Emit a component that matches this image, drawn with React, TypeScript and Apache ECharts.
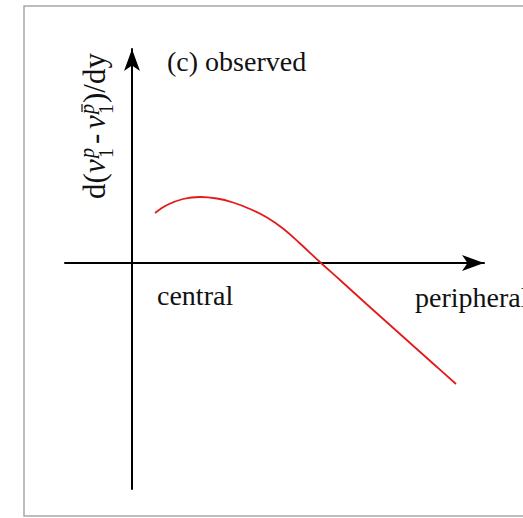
import React, { useEffect, useRef } from "react";
import * as echarts from "echarts";

// Curve (x: along the horizontal axis, y: derivative value)
const curveX = [2.3, 3.5, 5.1, 6.8, 8.5, 10.1, 11.8, 13.5, 15.1, 16.8, 18.9, 20.8, 23.5, 26.8, 30.1, 32.4];
const curveY = [5.0, 5.8, 6.4, 6.6, 6.45, 6.05, 5.4, 4.55, 3.45, 1.95, 0.0, -1.7, -4.15, -7.1, -10.05, -12.1];

const xRange = [-6.7, 35.2];
const yRange = [-22.6, 21.4];

const panelTitle = "(c) observed";
const xLabelLeft = "central";
const xLabelRight = "peripheral";

const SERIF = "'Liberation Serif', 'Times New Roman', serif";

function txt(text: string, x: number, baselineY: number, fs: number, italic = false) {
  return {
    type: "text",
    x,
    y: baselineY - 0.3375 * fs,
    style: {
      text,
      fill: "#111",
      font: `${italic ? "italic " : ""}${fs}px ${SERIF}`,
      align: "left",
      verticalAlign: "middle",
    },
  };
}

export default function App() {
  const ref = useRef<HTMLDivElement>(null);

  useEffect(() => {
    if (!ref.current) return;
    const chart = echarts.init(ref.current, null, { renderer: "svg" });
    const data = curveX.map((x, i) => [x, curveY[i]]);

    const F = 31;
    const S = 20;
    const supY = -11;
    const subY = 8;

    const yLabelChildren: any[] = [
      txt("d(", 0, 0, F),
      txt("v", 26, 0, F, true),
      txt("p", 41, supY, S, true),
      txt("1", 41, subY, S),
      txt("-", 55, 0, F),
      txt("v", 70, 0, F, true),
      txt("p", 85, supY, S, true),
      {
        type: "line",
        shape: { x1: 87, y1: supY - 12, x2: 95, y2: supY - 12 },
        style: { stroke: "#111", lineWidth: 1.2 },
      },
      txt("1", 85, subY, S),
      txt(")/dy", 96, 0, F),
    ];

    chart.setOption({
      animation: false,
      backgroundColor: "#fff",
      grid: { left: 65, right: 39, top: 49, bottom: 29, containLabel: false, outerBoundsMode: "none" },
      xAxis: {
        type: "value",
        min: xRange[0],
        max: xRange[1],
        axisLine: {
          onZero: true,
          symbol: ["none", "arrow"],
          symbolSize: [12, 22],
          lineStyle: { color: "#000", width: 2 },
        },
        axisTick: { show: false },
        axisLabel: { show: false },
        splitLine: { show: false },
      },
      yAxis: {
        type: "value",
        min: yRange[0],
        max: yRange[1],
        axisLine: {
          onZero: true,
          symbol: ["none", "arrow"],
          symbolSize: [12, 22],
          lineStyle: { color: "#000", width: 2 },
        },
        axisTick: { show: false },
        axisLabel: { show: false },
        splitLine: { show: false },
      },
      series: [
        {
          type: "line",
          data,
          smooth: 0.4,
          showSymbol: false,
          lineStyle: { color: "#e31a1c", width: 1.8 },
        },
      ],
      graphic: [
        {
          type: "rect",
          shape: { x: 24, y: 6, width: 600, height: 510 },
          style: { fill: "transparent", stroke: "#a8a8a8", lineWidth: 1.5 },
          z: -1,
        },
        {
          type: "text",
          x: 167,
          y: 61.5,
          style: { text: panelTitle, font: `28px ${SERIF}`, fill: "#111", verticalAlign: "middle" },
        },
        {
          type: "text",
          x: 157,
          y: 295,
          style: { text: xLabelLeft, font: `28px ${SERIF}`, fill: "#111", verticalAlign: "middle" },
        },
        {
          type: "text",
          x: 415,
          y: 297,
          style: { text: xLabelRight, font: `28px ${SERIF}`, fill: "#111", verticalAlign: "middle" },
        },
        {
          type: "group",
          x: 105,
          y: 199,
          rotation: Math.PI / 2,
          children: yLabelChildren,
        },
      ],
    });

    return () => chart.dispose();
  }, []);

  return (
    <div
      ref={ref}
      style={{ position: "fixed", left: 0, top: 0, width: 523, height: 518, background: "#fff" }}
    />
  );
}
